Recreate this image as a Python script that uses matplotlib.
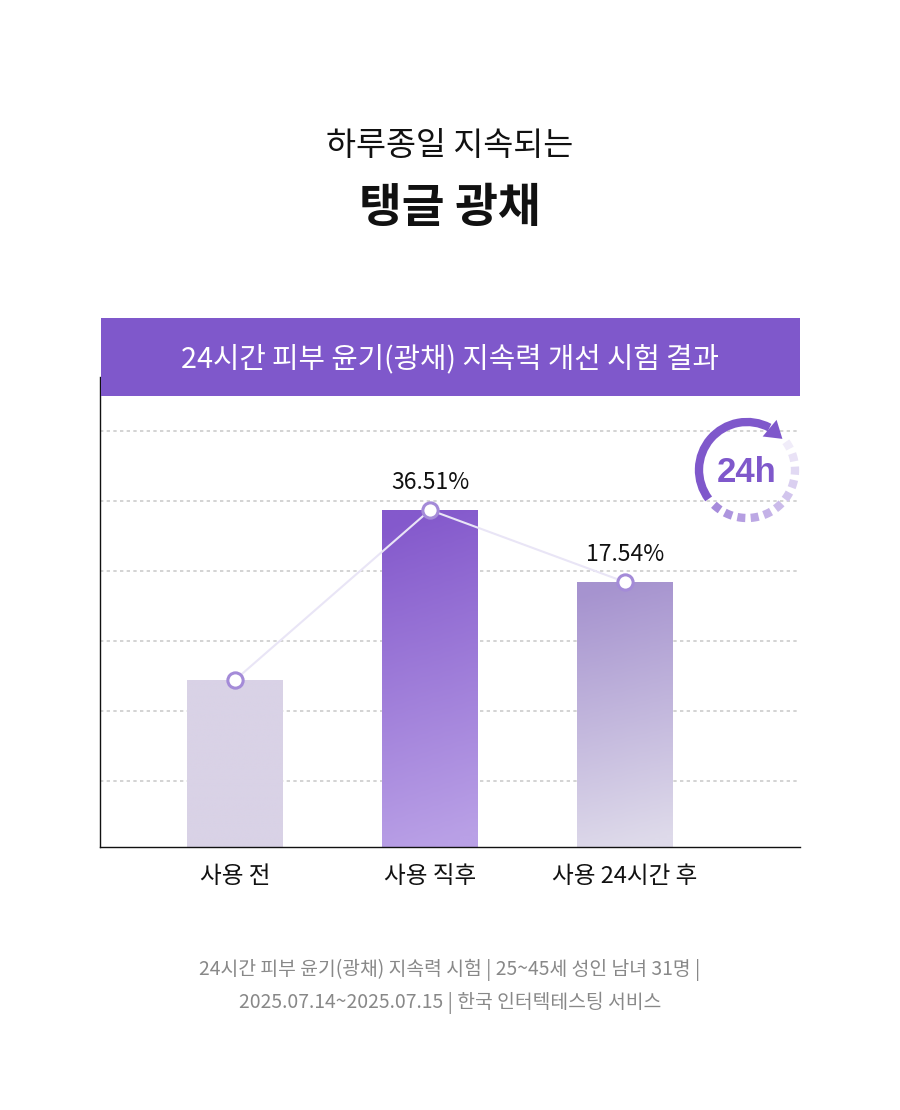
import numpy as np
import matplotlib
matplotlib.use("Agg")
import matplotlib.pyplot as plt
from matplotlib.patches import Rectangle, Arc, FancyArrowPatch
from matplotlib.colors import LinearSegmentedColormap

plt.rcParams['font.family'] = ['Noto Sans CJK KR', 'DejaVu Sans']

# 데이터
categories = ["사용 전", "사용 직후", "사용 24시간 후"]
gloss_values = [167, 337, 265]          # 막대 높이 (상대 지수)
value_labels = ["", "36.51%", "17.54%"]
grid_levels = [66, 136, 206, 276, 346, 416]

title_top = "하루종일 지속되는"
title_main = "탱글 광채"
header_text = "24시간 피부 윤기(광채) 지속력 개선 시험 결과"
footer_lines = ["24시간 피부 윤기(광채) 지속력 시험 | 25~45세 성인 남녀 31명 |",
                "2025.07.14~2025.07.15 | 한국 인터텍테스팅 서비스"]

PURPLE = "#7F58CB"

W, H = 900, 1110
fig = plt.figure(figsize=(W / 100, H / 100), dpi=100)
fig.patch.set_facecolor("white")

# 차트 영역
ax = fig.add_axes([100 / W, (H - 847) / H, 700 / W, 470 / H])
x = np.arange(len(categories))
ax.set_xlim(-135 / 195, 565 / 195)
ax.set_ylim(0, 470)

for g in grid_levels:
    ax.axhline(g, color="#cccccc", lw=1.2, ls=(0, (2, 2)), zorder=0)

bar_colors = [("#D9D2E6", "#D9D2E6"), ("#8459CC", "#B9A0E6"), ("#A693CF", "#DEDAEA")]
bars = ax.bar(x, gloss_values, width=96 / 195, color="none", zorder=2)
for b, (c_top, c_bot) in zip(bars, bar_colors):
    cmap = LinearSegmentedColormap.from_list("g", [c_bot, c_top])
    grad = np.linspace(0, 1, 256).reshape(-1, 1) * np.ones((1, 8))
    grad = grad + np.linspace(0.04, -0.04, 8)[None, :]
    x0, y0 = b.get_x(), b.get_y()
    img = ax.imshow(grad, cmap=cmap, origin="lower", aspect="auto",
                    extent=[x0, x0 + b.get_width(), y0, y0 + b.get_height()],
                    vmin=0, vmax=1, zorder=2)
    img.set_clip_path(b)

ax.plot(x, gloss_values, color="#E9E5F6", lw=1.5, zorder=3)
ax.plot(x, gloss_values, ls="none", marker="o", ms=11, mfc="white",
        mec="#A48BD8", mew=2.2, zorder=4)

for xi, v, lab in zip(x, gloss_values, value_labels):
    if lab:
        ax.text(xi, v + 16, lab, ha="center", va="bottom", fontsize=16.5,
                color="#111111", zorder=5)

ax.set_xticks(x)
ax.set_xticklabels(categories, fontsize=17, color="#111111")
ax.tick_params(axis="x", length=0, pad=13)
ax.set_yticks([])
for s in ["top", "right"]:
    ax.spines[s].set_visible(False)
for s in ["left", "bottom"]:
    ax.spines[s].set_color("#111111")
    ax.spines[s].set_linewidth(1.0)

# 장식용 오버레이 (픽셀 좌표)
ov = fig.add_axes([0, 0, 1, 1], facecolor="none")
ov.set_xlim(0, W)
ov.set_ylim(H, 0)
ov.axis("off")

ov.add_patch(Rectangle((100.5, 318), 699.5, 78, fc=PURPLE, ec="none", zorder=5))
ov.text(450, 359, header_text, ha="center", va="center", color="white",
        fontsize=20.7, zorder=6)

ov.text(450, 146, title_top, ha="center", va="center", fontsize=23.5, color="#111111")
ov.text(450, 208, title_main, ha="center", va="center", fontsize=33.5,
        fontweight="bold", color="#111111")

ov.text(450, 970, footer_lines[0], ha="center", va="center", fontsize=13.9, color="#888888")
ov.text(450, 1003, footer_lines[1], ha="center", va="center", fontsize=13.9, color="#888888")

# 24h 아이콘
cx, cy, r = 747, 470, 48
ov.add_patch(Arc((cx, cy), 2 * r, 2 * r, theta1=-217, theta2=-62,
                 color=PURPLE, lw=6, zorder=6))
a0, a1 = np.deg2rad(64), np.deg2rad(44)
ov.add_patch(FancyArrowPatch((cx + r * np.cos(a0), cy - r * np.sin(a0)),
                             (cx + r * np.cos(a1) + 3, cy - r * np.sin(a1) + 4),
                             arrowstyle="-|>,head_length=10,head_width=6.5",
                             color=PURPLE, lw=0, mutation_scale=1.2, zorder=7))
dash_cmap = LinearSegmentedColormap.from_list("d", ["#F0ECF9", "#A68BDB"])
n_dash = 11
starts = np.linspace(36, -140, n_dash, endpoint=False)
step = 176 / n_dash
for i, a in enumerate(starts):
    ov.add_patch(Arc((cx, cy), 2 * r, 2 * r, theta1=-(a), theta2=-(a - step * 0.6),
                     color=dash_cmap(i / (n_dash - 1)), lw=6, zorder=6))
ov.text(cx, cy + 2, "24h", ha="center", va="center", fontsize=25, fontweight="bold",
        color=PURPLE, family=["Liberation Sans", "DejaVu Sans"], zorder=7)

fig.savefig("out.png", dpi=100)
